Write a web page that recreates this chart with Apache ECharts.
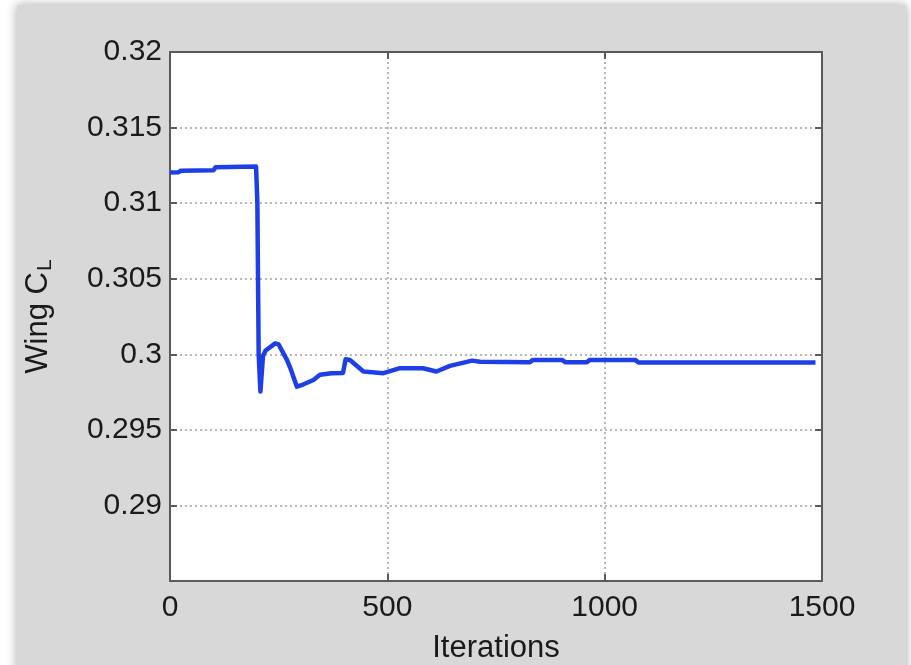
<!DOCTYPE html>
<html>
<head>
<meta charset="utf-8">
<script src="https://cdn.jsdelivr.net/npm/echarts@6/dist/echarts.min.js"></script>
<style>
html,body{margin:0;padding:0;background:#ffffff;}
#chart{width:911px;height:665px;}
</style>
</head>
<body>
<div id="chart"></div>
<script>
// Data
var iterations = [0, 20, 25, 100, 105, 198, 201, 204, 208, 214, 220, 242, 250, 269, 278, 292, 306, 330, 345, 372, 398, 404, 414, 445, 491, 529, 582, 613, 644, 695, 713, 828, 835, 902, 910, 959, 966, 1070, 1078, 1485];
var wingCL = [0.31202, 0.31205, 0.31215, 0.31218, 0.31238, 0.31242, 0.3100, 0.3000, 0.29753, 0.2999, 0.30025, 0.30072, 0.30065, 0.29963, 0.2990, 0.29786, 0.2980, 0.2983, 0.29864, 0.29875, 0.29877, 0.29967, 0.29962, 0.29886, 0.29875, 0.29908, 0.29908, 0.29886, 0.29923, 0.29958, 0.2995, 0.29947, 0.29963, 0.29963, 0.29947, 0.29947, 0.29963, 0.29963, 0.29945, 0.29945];
var xTicks = [0, 500, 1000, 1500];
var yTicks = [0.29, 0.295, 0.3, 0.305, 0.31, 0.315, 0.32];

var points = iterations.map(function (x, i) { return [x, wingCL[i]]; });

var chart = echarts.init(document.getElementById('chart'), null, {renderer: 'canvas'});
var font = 'Liberation Sans, Arial, Helvetica, sans-serif';
var axisLineStyle = {color: '#5a5a5a', width: 2};
var gridLine = {show: true, lineStyle: {color: '#a0a0a0', type: [2, 3], width: 1.5}};

chart.setOption({
  backgroundColor: '#ffffff',
  animation: false,
  graphic: [{
    type: 'rect', z: -10, silent: true,
    shape: {x: 17, y: 5, width: 889, height: 680},
    style: {fill: '#d8d8d8', shadowBlur: 10, shadowColor: 'rgba(0,0,0,0.35)', shadowOffsetX: 0, shadowOffsetY: 0}
  }],
  grid: {left: 170, top: 52, right: 89, bottom: 84, show: true, outerBoundsMode: 'none', containLabel: false,
    backgroundColor: '#ffffff', borderColor: '#5a5a5a', borderWidth: 2},
  xAxis: [{
    type: 'value', min: 0, max: 1500, interval: 500,
    name: 'Iterations', nameLocation: 'middle', nameGap: 52,
    nameTextStyle: {fontFamily: font, fontSize: 31, color: '#1a1a1a'},
    axisLine: {show: true, onZero: false, lineStyle: axisLineStyle},
    axisTick: {show: true, inside: true, length: 7, lineStyle: {color: '#5a5a5a', width: 2}},
    axisLabel: {fontFamily: font, fontSize: 30, color: '#1a1a1a', margin: 12,
      formatter: function (v) { return xTicks.indexOf(v) >= 0 ? String(v) : ''; }},
    splitLine: gridLine
  }, {
    type: 'value', min: 0, max: 1500, interval: 500, position: 'top',
    axisLine: {show: true, onZero: false, lineStyle: axisLineStyle},
    axisTick: {show: true, inside: true, length: 7, lineStyle: {color: '#5a5a5a', width: 2}},
    axisLabel: {show: false}, splitLine: {show: false}
  }],
  yAxis: [{
    type: 'value', min: 0.285, max: 0.32, interval: 0.005,
    name: 'Wing C{sub|L}', nameLocation: 'middle', nameGap: 114, nameRotate: 90,
    nameTextStyle: {fontFamily: font, fontSize: 31, color: '#1a1a1a',
      rich: {sub: {fontFamily: font, fontSize: 21, color: '#1a1a1a', verticalAlign: 'bottom', padding: [14, 0, 0, 1]}}},
    axisLine: {show: true, onZero: false, lineStyle: axisLineStyle},
    axisTick: {show: true, inside: true, length: 7, lineStyle: {color: '#5a5a5a', width: 2}},
    axisLabel: {fontFamily: font, fontSize: 30, color: '#1a1a1a', margin: 8, showMinLabel: false,
      formatter: function (v) {
        var r = Math.round(v * 1000) / 1000;
        for (var i = 0; i < yTicks.length; i++) { if (Math.abs(yTicks[i] - r) < 1e-9) return String(yTicks[i]); }
        return '';
      }},
    splitLine: gridLine
  }, {
    type: 'value', min: 0.285, max: 0.32, interval: 0.005, position: 'right',
    axisLine: {show: true, onZero: false, lineStyle: axisLineStyle},
    axisTick: {show: true, inside: true, length: 7, lineStyle: {color: '#5a5a5a', width: 2}},
    axisLabel: {show: false}, splitLine: {show: false}
  }],
  series: [{
    type: 'line', data: points, xAxisIndex: 0, yAxisIndex: 0,
    showSymbol: false, symbol: 'none',
    lineStyle: {color: '#1f3fe6', width: 4.5, join: 'round'},
    z: 5
  }]
});
</script>
</body>
</html>
